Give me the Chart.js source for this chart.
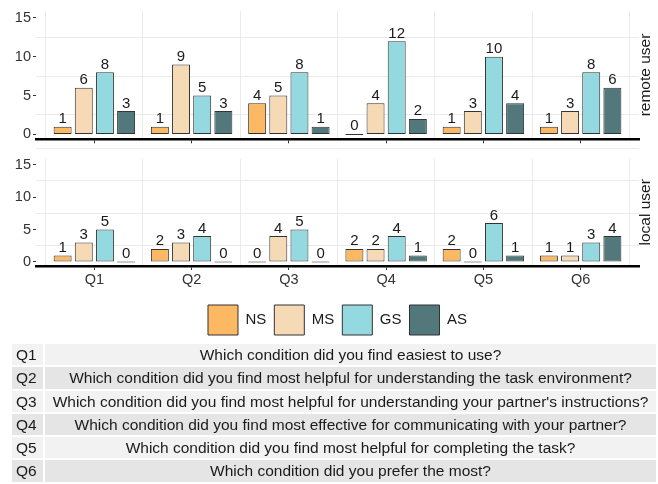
<!DOCTYPE html>
<html>
<head>
<meta charset="utf-8">
<script src="https://cdn.jsdelivr.net/npm/chart.js@4.4.0/dist/chart.umd.min.js"></script>
<style>
  body { margin: 0; background: #fff; }
  #wrap { position: relative; width: 658px; height: 484px; overflow: hidden; font-family: "Liberation Sans", Arial, sans-serif; }
  canvas { position: absolute; left: 0; }
  #remote { top: 0; }
  #local { top: 148px; }
  #qtable {
    position: absolute; left: 12px; top: 344px; width: 644px;
    display: grid; grid-template-columns: 31px 1fr; column-gap: 2px; row-gap: 2px;
    grid-auto-rows: 21.3px; font-size: 15.5px; color: #1a1a1a;
  }
  #qtable div { line-height: 21.3px; white-space: nowrap; overflow: visible; }
  #qtable .q { padding-left: 4px; }
  #qtable .t { text-align: center; }
  #qtable .odd { background: #f2f2f2; }
  #qtable .even { background: #e5e5e5; }
</style>
</head>
<body>
<div id="wrap">
  <canvas id="remote" width="658" height="150"></canvas>
  <canvas id="local" width="658" height="197"></canvas>
  <div id="qtable"></div>
</div>
<script>
// facet rows: remote user / local user, one series per condition
const questions = ['Q1', 'Q2', 'Q3', 'Q4', 'Q5', 'Q6'];
const conditions = ['NS', 'MS', 'GS', 'AS'];
const conditionColors = ['#FDB863', '#F5DAB5', '#94D8E0', '#52787B'];

const remoteNS = [1, 1, 4, 0, 1, 1];
const remoteMS = [6, 9, 5, 4, 3, 3];
const remoteGS = [8, 5, 8, 12, 10, 8];
const remoteAS = [3, 3, 1, 2, 4, 6];

const localNS = [1, 2, 0, 2, 2, 1];
const localMS = [3, 3, 4, 2, 0, 1];
const localGS = [5, 4, 5, 4, 6, 3];
const localAS = [0, 0, 0, 1, 1, 4];

const yTicks = [0, 5, 10, 15];

const questionText = [
  'Which condition did you find easiest to use?',
  'Which condition did you find most helpful for understanding the task environment?',
  "Which condition did you find most helpful for understanding your partner's instructions?",
  'Which condition did you find most effective for communicating with your partner?',
  'Which condition did you find most helpful for completing the task?',
  'Which condition did you prefer the most?',
];

const FONT = '"Liberation Sans", Arial, sans-serif';
const TXT = '#1a1a1a';
const AXIS = '#333333';
const GRID = '#ebebeb';
const NONE = 'rgba(0,0,0,0)';
Chart.defaults.font.family = FONT;

// count labels over each bar
const valueLabels = {
  id: 'valueLabels',
  afterDatasetsDraw(chart) {
    const ctx = chart.ctx;
    ctx.save();
    ctx.font = '15px ' + FONT;
    ctx.fillStyle = TXT;
    ctx.textAlign = 'center';
    ctx.textBaseline = 'alphabetic';
    chart.data.datasets.forEach((ds, di) => {
      chart.getDatasetMeta(di).data.forEach((bar, i) => {
        const top = Math.min(bar.y, bar.base);
        ctx.fillText(String(ds.data[i].y), bar.x, top - 3.5);
      });
    });
    ctx.restore();
  },
};

// facet strip text on the right side of the panel
const stripLabel = {
  id: 'strip',
  afterDraw(chart, args, opts) {
    const { ctx, chartArea: a } = chart;
    ctx.save();
    ctx.translate(a.right + 7, (a.top + a.bottom) / 2);
    ctx.rotate(-Math.PI / 2);
    ctx.font = '15.5px ' + FONT;
    ctx.fillStyle = TXT;
    ctx.textAlign = 'center';
    ctx.textBaseline = 'middle';
    ctx.fillText(opts.text, 0, 0);
    ctx.restore();
  },
};

function yGridValues() {
  const out = [];
  yTicks.forEach((v, i) => {
    out.push(v);
    if (i < yTicks.length - 1) out.push((v + yTicks[i + 1]) / 2);
    else out.push(v + (v - yTicks[i - 1]) / 2);
  });
  return out;
}

function renderPanel(canvas, series, strip, bottom) {
  const isMinor = (c) => c.tick && !yTicks.includes(c.tick.value);
  const centers = (s) => { s.ticks = questions.map((q, i) => ({ value: i + 1 })); };
  return new Chart(canvas, {
    type: 'bar',
    data: {
      datasets: conditions.map((name, k) => ({
        label: name,
        data: series[k].map((v, i) => ({ x: i + 1, y: v })),
        backgroundColor: conditionColors[k],
        borderColor: '#333',
        borderWidth: 1,
        borderSkipped: false,
        minBarLength: 1,
        categoryPercentage: 0.87,
        barPercentage: 0.85,
      })),
    },
    options: {
      responsive: false,
      animation: false,
      layout: { padding: bottom ? { top: 2, right: 19, bottom: 0, left: 0 } : { top: 6, right: 19, bottom: 0, left: 0 } },
      plugins: {
        legend: {
          display: bottom,
          position: 'bottom',
          fullSize: false,
          labels: { boxWidth: 30, boxHeight: 30, padding: 8, color: TXT, font: { size: 15 } },
        },
        tooltip: { enabled: false },
        strip: { text: strip },
      },
      scales: {
        x: {
          type: 'linear',
          min: 0.4, max: 6.6,
          offset: false,
          afterBuildTicks: centers,
          afterFit: (s) => { s.height = bottom ? 31 : 4; },
          border: { display: true, color: '#000', width: 2.5 },
          grid: { offset: false, drawOnChartArea: false, tickColor: AXIS, tickLength: 4 },
          ticks: {
            display: bottom, color: AXIS, font: { size: 14.5 }, padding: 1, maxRotation: 0, autoSkip: false,
            callback: (v) => questions[v - 1],
          },
        },
        // minor vertical grid between the question groups
        xg: {
          type: 'linear', position: 'bottom', axis: 'x',
          min: 0.4, max: 6.6,
          offset: false,
          afterBuildTicks: centers,
          afterFit: (s) => { s.height = 0; },
          border: { display: false },
          grid: { offset: true, color: GRID, drawTicks: false },
          ticks: { display: false },
        },
        y: {
          min: -0.63, max: 15.93,
          afterBuildTicks: (s) => { s.ticks = yGridValues().map((v) => ({ value: v })); },
          afterFit: (s) => { s.width = 36; },
          border: { display: false },
          grid: {
            color: (c) => (isMinor(c) ? GRID : NONE),
            tickColor: (c) => (isMinor(c) ? NONE : AXIS),
            tickLength: 3,
          },
          ticks: {
            color: AXIS, font: { size: 14.5 }, padding: 2, autoSkip: false,
            callback: (v) => (yTicks.includes(v) ? v : ''),
          },
        },
      },
    },
    plugins: [valueLabels, stripLabel],
  });
}

renderPanel(document.getElementById('remote'), [remoteNS, remoteMS, remoteGS, remoteAS], 'remote user', false);
renderPanel(document.getElementById('local'), [localNS, localMS, localGS, localAS], 'local user', true);

// question legend table
const table = document.getElementById('qtable');
questions.forEach((q, i) => {
  const shade = i % 2 === 0 ? 'odd' : 'even';
  const a = document.createElement('div');
  a.className = 'q ' + shade;
  a.textContent = q;
  const b = document.createElement('div');
  b.className = 't ' + shade;
  b.textContent = questionText[i];
  table.appendChild(a);
  table.appendChild(b);
});
</script>
</body>
</html>
